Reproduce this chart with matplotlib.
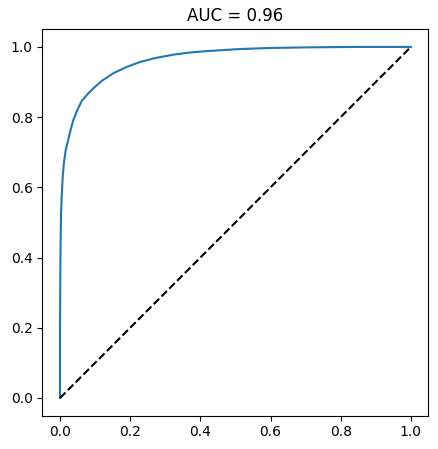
import matplotlib
matplotlib.use("Agg")
import matplotlib.pyplot as plt

# ROC curve points
fpr = [0.0, 0.0, 0.001, 0.002, 0.003, 0.005, 0.008, 0.011, 0.016, 0.024, 0.031,
       0.038, 0.05, 0.062, 0.078, 0.095, 0.12, 0.152, 0.19, 0.228, 0.27,
       0.323, 0.37, 0.418, 0.513, 0.6, 0.73, 0.85, 1.0]
tpr = [0.0, 0.2, 0.38, 0.47, 0.53, 0.58, 0.635, 0.669, 0.705, 0.738, 0.767,
       0.792, 0.822, 0.846, 0.865, 0.882, 0.904, 0.925, 0.943, 0.957, 0.968,
       0.978, 0.984, 0.988, 0.994, 0.997, 0.999, 1.0, 1.0]
diag = [0.0, 1.0]
auc_text = "AUC = 0.96"

fig = plt.figure(figsize=(4.39, 4.49), dpi=100)
ax = fig.add_axes([0.0968, 0.0746, 0.879, 0.860])

ax.plot(fpr, tpr, color="#1f77b4")
ax.plot(diag, diag, "k--")
ax.set_title(auc_text)

fig.savefig("out.png", dpi=100)
